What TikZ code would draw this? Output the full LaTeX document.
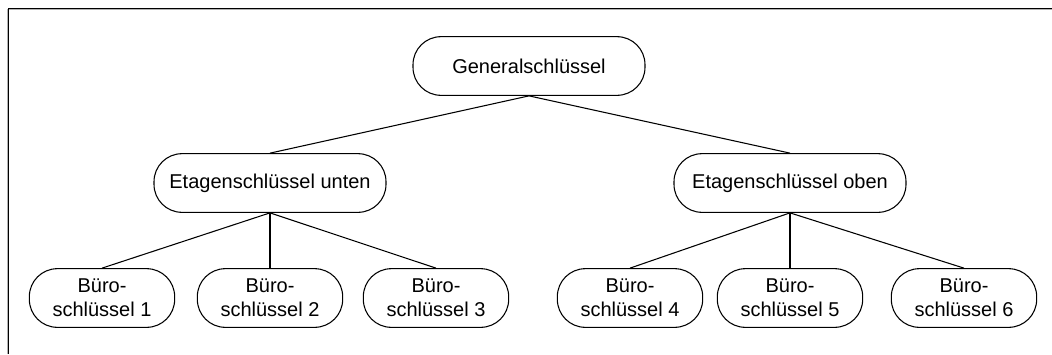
\documentclass[tikz,border=0pt]{standalone}
\usepackage{fontspec}
\setmainfont{Liberation Sans}
\usepackage{tikz}

\begin{document}
\begin{tikzpicture}[x=0.75pt, y=-0.75pt,
	key/.style={draw, line width=0.8pt, rounded corners=21pt, minimum width=174pt,
		minimum height=44pt, align=center, font=\fontsize{15}{18}\selectfont},
	office/.style={key, minimum width=109pt}]
	\useasboundingbox (0,0) rectangle (1052,354);
	% frame with a light shadow
	\draw[gray!60, line width=0.8pt] (7.4,354) -- (7.4,9.9) -- (1052,9.9);
	\draw[line width=1pt] (8.8,354) -- (8.8,8.6) -- (1052,8.6);
	% keys
	\node[key] (gen) at (529,66) {Generalschlüssel};
	\node[key] (unten) at (270,183) {Etagenschlüssel unten};
	\node[key] (oben) at (790,183) {Etagenschlüssel oben};
\foreach \n/\x in {1/102, 2/270, 3/436, 4/630, 5/790, 6/964}
	\node[office] (b\n) at (\x,298) {Büro-\\schlüssel \n};
	% connections
\foreach \c in {unten, oben}
	\draw[line width=0.8pt] (gen.south) -- (\c.north);
\foreach \n in {1, 2, 3}
	\draw[line width=0.8pt] (unten.south) -- (b\n.north);
\foreach \n in {4, 5, 6}
	\draw[line width=0.8pt] (oben.south) -- (b\n.north);
\end{tikzpicture}
\end{document}
